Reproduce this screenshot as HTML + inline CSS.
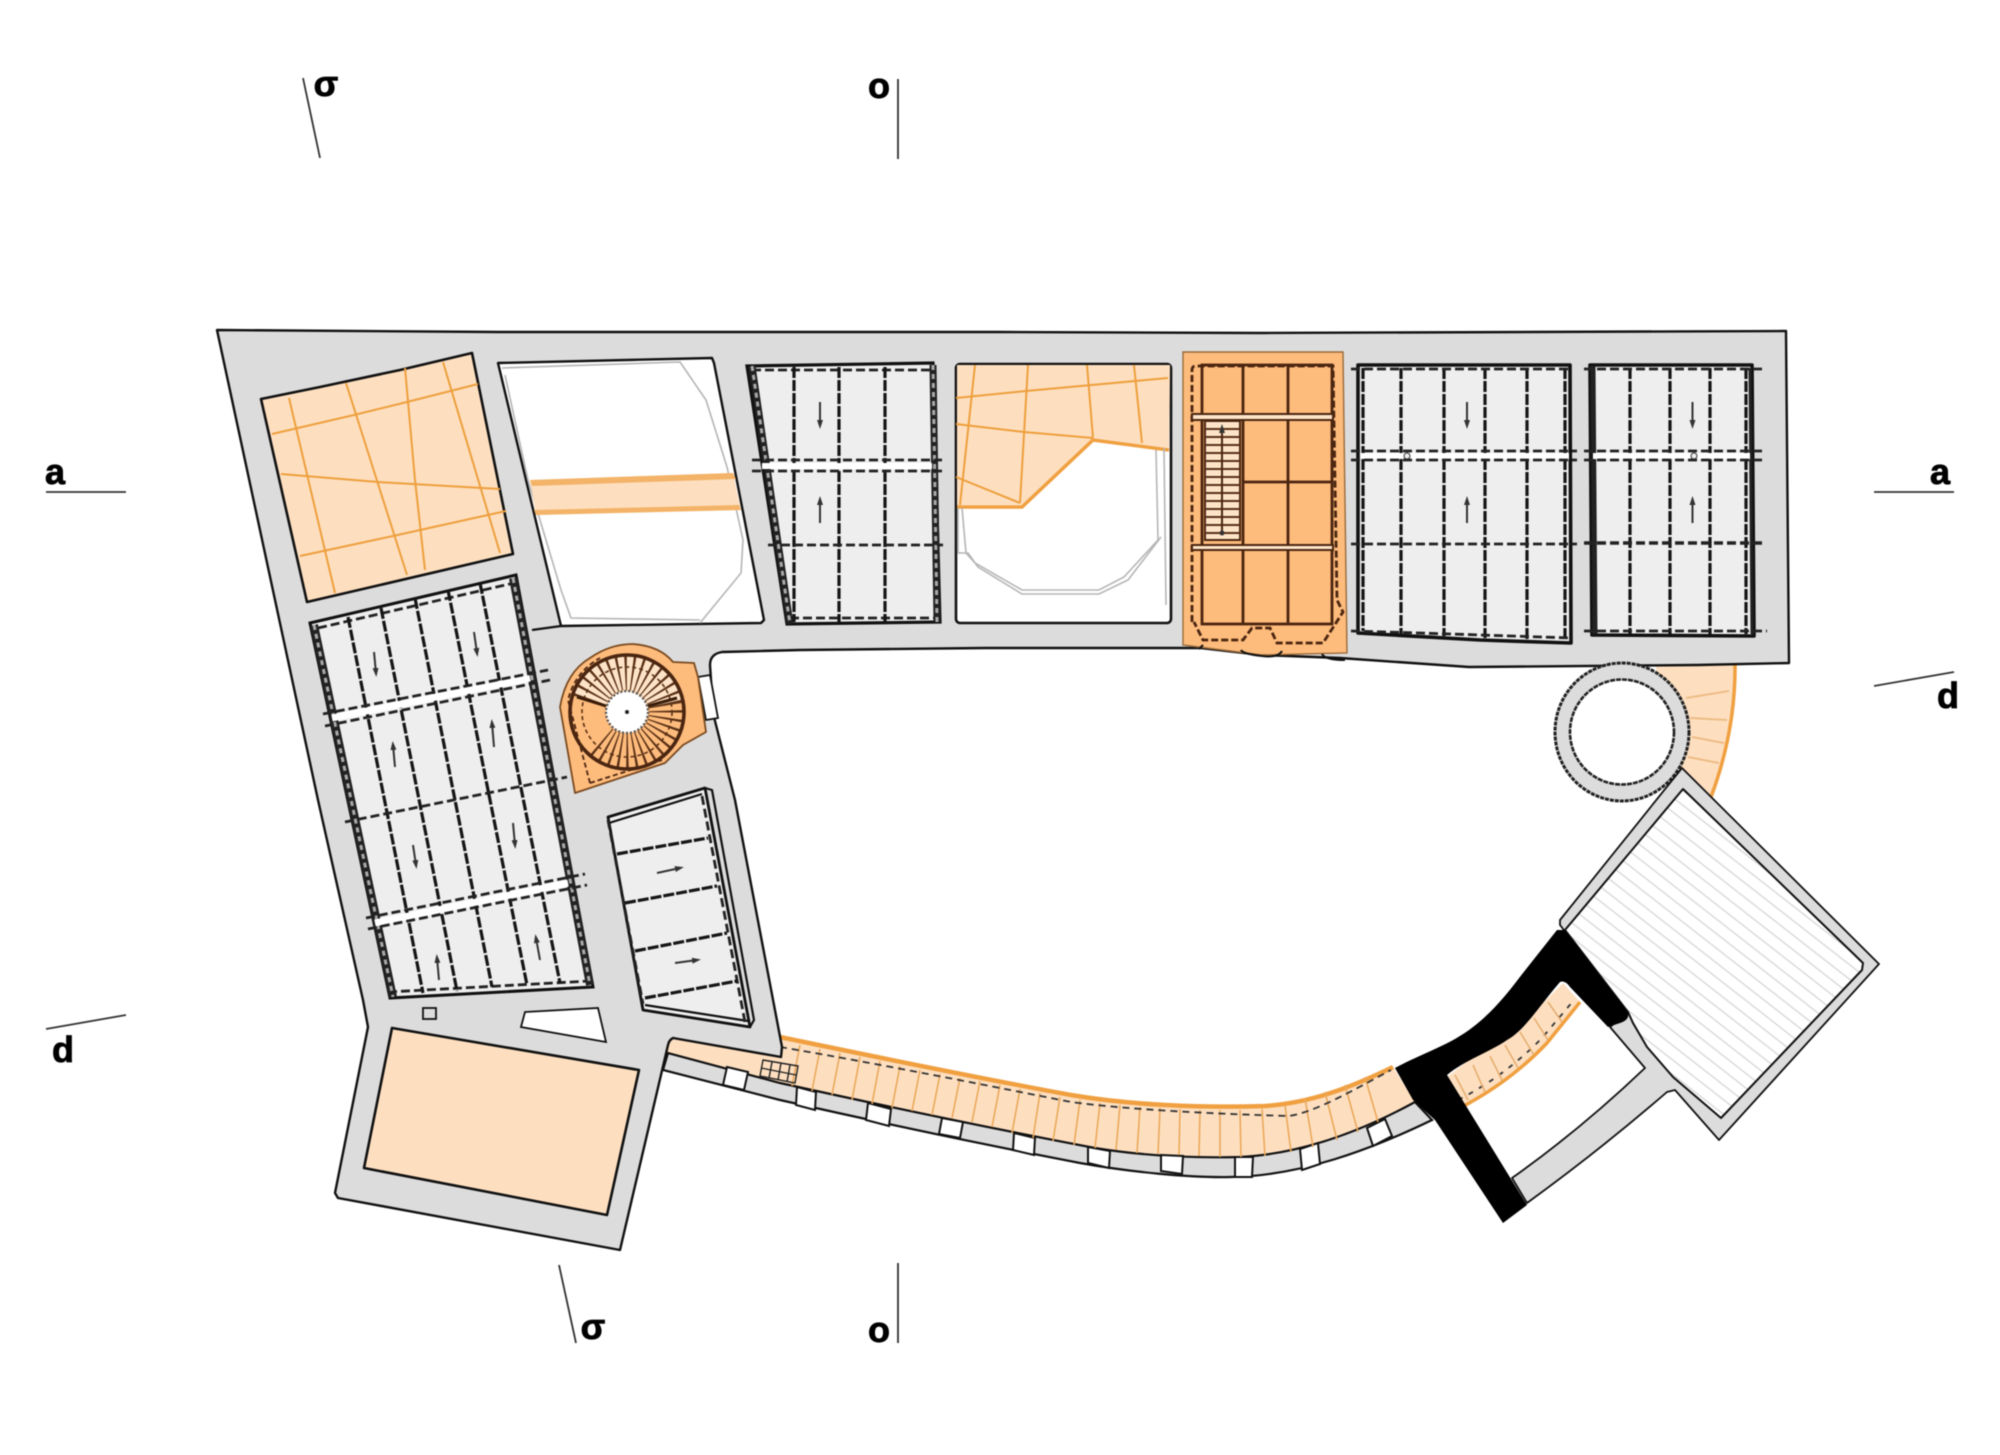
<!DOCTYPE html>
<html><head><meta charset="utf-8"><style>
html,body{margin:0;padding:0;background:#fff}
svg{display:block;filter:blur(0.45px)}
.k{stroke:#111;stroke-width:2.2;fill:none;stroke-linejoin:round}
.o{stroke:#ee9f3c;stroke-width:2;fill:none}
.d{stroke:#151515;stroke-width:3.2;stroke-dasharray:11 2;fill:none}
.h{stroke:#222;stroke-width:2.8;stroke-dasharray:9 4;fill:none}
.b1{stroke:#222;stroke-width:8;fill:none}
.b2{stroke:#aaa;stroke-width:3;stroke-dasharray:5 4;fill:none}
.g{stroke:#b5b5b5;stroke-width:1.6;fill:none}
.a{stroke:#333;stroke-width:2;fill:none}
.br{stroke:#4a2510;stroke-width:2.8;fill:none}
.m{stroke:#333;stroke-width:1.8}
text{font-family:"Liberation Sans","DejaVu Sans",sans-serif;font-weight:bold;font-size:36px;fill:#000;text-anchor:middle;stroke:#000;stroke-width:.8}
</style></head><body>
<svg xmlns="http://www.w3.org/2000/svg" width="2000" height="1455" viewBox="0 0 2000 1455">
<defs>
<pattern id="hat" width="40" height="11.5" patternUnits="userSpaceOnUse" patternTransform="rotate(38)">
<rect width="40" height="11.5" fill="#fff"/><line x1="0" y1="1" x2="40" y2="1" stroke="#d4d4d4" stroke-width="1.2"/>
</pattern>
<marker id="ah" markerUnits="userSpaceOnUse" markerWidth="9" markerHeight="6" refX="5" refY="3" orient="auto"><path d="M0,0L9,3L0,6Z" fill="#333"/></marker>
</defs>
<rect width="2000" height="1455" fill="#fff"/>

<!-- section marks -->
<g class="m">
<line x1="303" y1="78" x2="320" y2="158"/><line x1="898" y1="79" x2="898" y2="159"/>
<line x1="559" y1="1265" x2="576" y2="1343"/><line x1="898" y1="1263" x2="898" y2="1343"/>
<line x1="46" y1="492" x2="126" y2="492"/><line x1="1874" y1="492" x2="1954" y2="492"/>
<line x1="46" y1="1029" x2="126" y2="1015"/><line x1="1874" y1="686" x2="1954" y2="672"/>
</g>
<text x="326" y="96">σ</text><text x="879" y="98">o</text>
<text x="593" y="1339">σ</text><text x="879" y="1342">o</text>
<text x="55" y="484">a</text><text x="1940" y="484">a</text>
<text x="63" y="1062">d</text><text x="1948" y="708">d</text>

<!-- NE stair wedge -->
<path d="M1654,660 L1735,660 Q1736,730 1711,797 L1680,770 Z" fill="#fddfc0"/>
<path d="M1735,662 Q1736,730 1711,797" fill="none" stroke="#f0a040" stroke-width="3.5"/>
<g stroke="#eebc85" stroke-width="2"><line x1="1686" y1="698" x2="1729" y2="691"/><line x1="1690" y1="718" x2="1727" y2="720"/><line x1="1692" y1="737" x2="1724" y2="743"/><line x1="1688" y1="757" x2="1719" y2="763"/></g>

<!-- bottom curved gallery -->
<path d="M660,1038 L780,1037 C900,1062 1000,1082 1071,1095 C1130,1105 1200,1108 1265,1106 C1310,1103 1350,1088 1393,1067 L1415,1102 C1360,1132 1300,1154 1240,1157 C1200,1158 1150,1157 1095,1148 C1000,1130 880,1105 780,1083 L668,1053 Z" fill="#fddfc0"/>
<path d="M780,1037 C900,1062 1000,1082 1071,1095 C1130,1105 1200,1108 1265,1106 C1310,1103 1350,1088 1393,1067" fill="none" stroke="#f0a040" stroke-width="4.5"/>
<path d="M668,1053 L780,1083 C880,1105 1000,1130 1095,1148 C1150,1157 1200,1158 1240,1157 C1300,1154 1360,1132 1415,1102 L1432,1120 C1370,1150 1300,1176 1231,1177 C1190,1178 1130,1172 1080,1163 C970,1142 860,1118 780,1100 L663,1070 Z" fill="#dcdcdc" stroke="#111" stroke-width="2.2"/>
<g fill="#fff" stroke="#111" stroke-width="2">
<path d="M727,1067L748,1072L744,1090L723,1085Z"/>
<path d="M797,1087L816,1092L815,1110L796,1105Z"/>
<path d="M868,1103L891,1109L889,1126L866,1120Z"/>
<path d="M942,1118L963,1122L960,1138L939,1134Z"/>
<path d="M1014,1133L1035,1138L1034,1155L1013,1150Z"/>
<path d="M1088,1147L1110,1151L1109,1168L1088,1163Z"/>
<path d="M1161,1155L1183,1156L1182,1174L1161,1171Z"/>
<path d="M1235,1157L1253,1157L1252,1177L1235,1177Z"/>
<path d="M1300,1149L1318,1143L1320,1164L1302,1170Z"/>
<path d="M1367,1128L1385,1119L1392,1136L1373,1146Z"/>
</g>
<g stroke="#eba85a" stroke-width="1.6">
<line x1="800" y1="1045" x2="792" y2="1086"/><line x1="820" y1="1049" x2="812" y2="1091"/><line x1="840" y1="1053" x2="832" y2="1095"/><line x1="860" y1="1057" x2="852" y2="1100"/><line x1="880" y1="1061" x2="872" y2="1104"/><line x1="900" y1="1066" x2="892" y2="1108"/><line x1="920" y1="1070" x2="912" y2="1111"/><line x1="940" y1="1074" x2="932" y2="1115"/><line x1="960" y1="1078" x2="952" y2="1118"/><line x1="980" y1="1081" x2="972" y2="1122"/><line x1="1000" y1="1085" x2="992" y2="1127"/><line x1="1020" y1="1089" x2="1012" y2="1133"/><line x1="1040" y1="1093" x2="1033" y2="1138"/><line x1="1060" y1="1097" x2="1053" y2="1141"/><line x1="1080" y1="1100" x2="1074" y2="1145"/><line x1="1100" y1="1103" x2="1095" y2="1148"/><line x1="1120" y1="1105" x2="1116" y2="1150"/><line x1="1140" y1="1107" x2="1137" y2="1153"/><line x1="1160" y1="1108" x2="1158" y2="1154"/><line x1="1180" y1="1109" x2="1179" y2="1155"/><line x1="1200" y1="1110" x2="1199" y2="1156"/><line x1="1220" y1="1110" x2="1220" y2="1157"/><line x1="1240" y1="1110" x2="1241" y2="1157"/><line x1="1262" y1="1109" x2="1265" y2="1156"/><line x1="1285" y1="1105" x2="1291" y2="1152"/><line x1="1305" y1="1098" x2="1313" y2="1147"/><line x1="1325" y1="1092" x2="1337" y2="1140"/><line x1="1345" y1="1085" x2="1358" y2="1132"/><line x1="1365" y1="1077" x2="1378" y2="1122"/>
</g>
<path d="M780,1047 C880,1064 1000,1088 1071,1102 C1130,1110 1220,1114 1289,1116 C1315,1112 1350,1092 1391,1070" fill="none" stroke="#333" stroke-width="1.8" stroke-dasharray="7 5"/>
<!-- small grid -->
<g stroke="#222" stroke-width="1.4" fill="none"><path d="M763,1060L798,1066L795,1083L760,1076Z"/><line x1="761" y1="1068" x2="796" y2="1075"/><line x1="772" y1="1062" x2="769" y2="1078"/><line x1="781" y1="1063" x2="778" y2="1080"/><line x1="790" y1="1065" x2="787" y2="1082"/></g>

<!-- main grey body -->
<path d="M217,330 L500,332 L1000,332 L1262,333 L1786,331 L1789,663 L1697,665 L1469,667 L1340,658 L1262,655 L1201,648 L985,648 L800,650 L722,652 Q710,654 710,665 L711,680 L714,717 L735,800 L782,1047 L781,1057 L673,1038 Q669,1040 668,1045 L620,1250 L338,1198 L335,1193 L368,1027 L363,1000 L318,800 Z" fill="#dcdcdc" stroke="#111" stroke-width="2.4" stroke-linejoin="round"/>

<!-- doorway white -->
<path d="M698,677 L710,675 L718,718 L706,720Z" fill="#fff" stroke="#111" stroke-width="1.8"/>

<!-- Room A -->
<path d="M261,399 L320,387 L400,370 L472,353 L513,554 L307,602 Z" fill="#fddfc0" stroke="#111" stroke-width="2.6" stroke-linejoin="round"/>
<g class="o">
<line x1="289" y1="398" x2="335" y2="593"/><line x1="346" y1="383" x2="407" y2="575"/>
<path d="M405,368 L415,480 L425,570"/><line x1="443" y1="362" x2="500" y2="553"/>
<path d="M272,434 L354,415 L407,402 L478,384"/><path d="M281,474 L378,482 L500,489"/><path d="M300,556 L393,536 L506,511"/>
</g>

<!-- Room B -->
<path d="M498,363 L712,358 L714,363 L764,620 L761,623 L561,626 Z" fill="#fff" stroke="#111" stroke-width="2.4" stroke-linejoin="round"/>
<path d="M502,368 L680,362 L706,400 L727,467 L743,540 L741,573 L700,623 M700,620 L571,618 L561,590 L528,480 L505,375" class="g"/>
<path d="M530,480 L733,473 L741,510 L536,515Z" fill="#fddfc0"/>
<path d="M530,480 L733,473 L736,479 L532,486Z M534,510 L739,505 L741,510 L536,515Z" fill="#f3b368"/>
<line x1="532" y1="630" x2="561" y2="626" class="k"/>

<!-- Room C -->
<path d="M310,623 L516,575 L593,987 L390,998 Z" fill="#eeeeee" stroke="#111" stroke-width="3"/>
<path d="M318,628 L514,583 M388,992 L590,981" class="h"/>
<g class="b1"><line x1="314" y1="625" x2="393" y2="997"/><line x1="513" y1="578" x2="590" y2="985"/></g>
<g class="b2"><line x1="314" y1="625" x2="393" y2="997"/><line x1="513" y1="578" x2="590" y2="985"/></g>
<g class="d"><line x1="348" y1="617" x2="423" y2="993"/><line x1="381" y1="608" x2="457" y2="991"/><line x1="415" y1="598" x2="492" y2="987"/><line x1="448" y1="590" x2="527" y2="985"/><line x1="480" y1="583" x2="560" y2="983"/></g>
<line x1="332" y1="718" x2="530" y2="678" stroke="#fff" stroke-width="7"/>
<line x1="375" y1="923" x2="568" y2="883" stroke="#fff" stroke-width="7"/>
<g class="h"><line x1="323" y1="714" x2="548" y2="670"/><line x1="325" y1="726" x2="550" y2="680"/><line x1="366" y1="918" x2="585" y2="874"/><line x1="368" y1="929" x2="587" y2="885"/><line x1="345" y1="822" x2="567" y2="777"/></g>
<g class="a"><line x1="374" y1="652" x2="376" y2="673" marker-end="url(#ah)"/><line x1="474" y1="632" x2="477" y2="653" marker-end="url(#ah)"/><line x1="395" y1="767" x2="393" y2="745" marker-end="url(#ah)"/><line x1="494" y1="747" x2="492" y2="723" marker-end="url(#ah)"/><line x1="413" y1="845" x2="416" y2="865" marker-end="url(#ah)"/><line x1="513" y1="823" x2="515" y2="845" marker-end="url(#ah)"/><line x1="439" y1="980" x2="437" y2="958" marker-end="url(#ah)"/><line x1="540" y1="960" x2="536" y2="938" marker-end="url(#ah)"/></g>

<!-- Room D -->
<path d="M608,817 L705,788 L750,1027 L643,1010 Z" fill="#eeeeee" stroke="#111" stroke-width="2.8" stroke-linejoin="round"/>
<path d="M609,823 L702,794 M705,788 L712,790 L754,1020 L750,1027 M645,1005 L748,1021" class="k"/>
<path d="M608,820 L643,1004 M702,796 L745,1022" class="h"/>
<g class="d"><line x1="617" y1="854" x2="708" y2="838"/><line x1="625" y1="903" x2="717" y2="886"/><line x1="635" y1="951" x2="727" y2="933"/><line x1="645" y1="998" x2="737" y2="981"/></g>
<line x1="657" y1="873" x2="680" y2="868" class="a" marker-end="url(#ah)"/><line x1="675" y1="963" x2="697" y2="960" class="a" marker-end="url(#ah)"/>

<!-- trapezoid and square -->
<path d="M525,1012 L598,1008 L606,1042 L521,1027Z" fill="#fff" stroke="#111" stroke-width="1.8"/>
<rect x="423" y="1008" width="13" height="11" fill="none" stroke="#111" stroke-width="1.8"/>

<!-- Room E -->
<path d="M392,1028 L639,1070 L607,1215 L364,1168 Z" fill="#fddfc0" stroke="#111" stroke-width="2.6" stroke-linejoin="round"/>

<!-- Room F -->
<path d="M747,366 L933,363 L940,622 L787,624 Z" fill="#eeeeee" stroke="#111" stroke-width="3.2"/>
<path d="M752,370 L930,370 M790,618 L938,618" class="h"/>
<g class="b1" style="stroke-width:7"><line x1="752" y1="366" x2="790" y2="624"/><line x1="933" y1="365" x2="937" y2="622"/></g>
<g class="b2"><line x1="752" y1="366" x2="790" y2="624"/><line x1="933" y1="365" x2="937" y2="622"/></g>
<g class="d"><line x1="794" y1="367" x2="794" y2="622"/><line x1="839" y1="367" x2="839" y2="622"/><line x1="885" y1="367" x2="885" y2="622"/></g>
<line x1="762" y1="466" x2="932" y2="466" stroke="#fff" stroke-width="6"/>
<g class="h"><line x1="752" y1="460" x2="942" y2="460"/><line x1="752" y1="471" x2="942" y2="471"/><line x1="768" y1="545" x2="943" y2="545"/></g>
<line x1="820" y1="402" x2="820" y2="425" class="a" marker-end="url(#ah)"/><line x1="820" y1="523" x2="820" y2="500" class="a" marker-end="url(#ah)"/>

<!-- Room G -->
<rect x="956" y="364" width="215" height="259" rx="4" fill="#fff" stroke="#111" stroke-width="2.6"/>
<path d="M957,365 L1170,365 L1169,448 L1093,438 L1022,505 L957,505 Z" fill="#fddfc0"/>
<path d="M957,507 L1022,507 L1093,440 L1169,450" fill="none" stroke="#f0a040" stroke-width="3.5"/>
<g class="o"><line x1="975" y1="365" x2="960" y2="505"/><line x1="1028" y1="365" x2="1020" y2="503"/><line x1="1087" y1="365" x2="1093" y2="438"/><line x1="1134" y1="365" x2="1142" y2="443"/><path d="M956,398 L1026,391 L1168,378"/><path d="M956,424 L1024,432 L1093,438"/><line x1="956" y1="477" x2="1020" y2="503"/></g>
<path d="M962,508 L966,553 L975,563 L1022,590 L1099,590 L1124,577 L1158,540 L1156,450" class="g"/>
<path d="M958,508 L958,553 L968,553 L978,567 L1022,594 L1099,594 L1128,580 L1161,537 M1164,448 L1166,605" class="g"/>

<!-- Room H -->
<path d="M1183,352 L1343,352 L1347,653 L1262,655 L1183,645 Z" fill="#fdbb7c" stroke="#9a6a3a" stroke-width="1.4"/>
<path d="M1192,622 V370 Q1192,366 1196,366 H1333 L1337,600 L1343,612 L1323,643 H1277 L1270,628 H1252 L1243,640 H1203 L1194,622" fill="none" stroke="#4a2510" stroke-width="2.8" stroke-dasharray="7 3"/>
<g class="br">
<rect x="1202" y="365" width="130" height="259"/>
<line x1="1243" y1="365" x2="1243" y2="625"/><line x1="1288" y1="365" x2="1288" y2="625"/><line x1="1243" y1="482" x2="1332" y2="482"/>
</g>
<rect x="1192" y="414" width="141" height="6" fill="#fde4c8" stroke="#4a2510" stroke-width="2"/>
<rect x="1192" y="545" width="141" height="5" fill="#fde4c8" stroke="#4a2510" stroke-width="2"/>
<rect x="1205" y="421" width="35" height="119" fill="#fde4c8" stroke="#4a2510" stroke-width="2"/>
<g stroke="#5a3015" stroke-width="2"><line x1="1205" y1="429" x2="1240" y2="429"/><line x1="1205" y1="437" x2="1240" y2="437"/><line x1="1205" y1="445" x2="1240" y2="445"/><line x1="1205" y1="453" x2="1240" y2="453"/><line x1="1205" y1="461" x2="1240" y2="461"/><line x1="1205" y1="469" x2="1240" y2="469"/><line x1="1205" y1="477" x2="1240" y2="477"/><line x1="1205" y1="485" x2="1240" y2="485"/><line x1="1205" y1="493" x2="1240" y2="493"/><line x1="1205" y1="501" x2="1240" y2="501"/><line x1="1205" y1="509" x2="1240" y2="509"/><line x1="1205" y1="517" x2="1240" y2="517"/><line x1="1205" y1="525" x2="1240" y2="525"/><line x1="1205" y1="533" x2="1240" y2="533"/></g>
<line x1="1222" y1="533" x2="1222" y2="428" stroke="#4a2510" stroke-width="2" marker-end="url(#ah)"/>
<circle cx="1222" cy="533" r="2.5" fill="#333"/>
<path d="M1199,649 L1203,645 M1241,650 Q1243,654 1262,656 Q1278,658 1282,651 M1322,654 Q1325,660 1345,660" fill="none" stroke="#111" stroke-width="2"/>

<!-- Room I -->
<path d="M1358,365 L1570,365 L1571,643 L1480,640 L1358,633 Z" fill="#eeeeee" stroke="#111" stroke-width="3.6" stroke-linejoin="round"/>
<g class="d"><line x1="1363" y1="368" x2="1363" y2="631"/><line x1="1401" y1="368" x2="1401" y2="634"/><line x1="1444" y1="368" x2="1444" y2="636"/><line x1="1485" y1="368" x2="1485" y2="638"/><line x1="1527" y1="368" x2="1527" y2="640"/><line x1="1565" y1="368" x2="1565" y2="640"/></g>
<line x1="1361" y1="456" x2="1569" y2="456" stroke="#fff" stroke-width="6"/>
<g class="h"><line x1="1351" y1="369" x2="1572" y2="369"/><line x1="1351" y1="451" x2="1577" y2="451"/><line x1="1351" y1="460" x2="1577" y2="460"/><line x1="1351" y1="544" x2="1577" y2="544"/><path d="M1351,631 L1420,633 L1572,638"/></g>
<circle cx="1407" cy="456" r="3" fill="#eee" stroke="#333"/>
<line x1="1467" y1="402" x2="1467" y2="425" class="a" marker-end="url(#ah)"/><line x1="1467" y1="523" x2="1467" y2="500" class="a" marker-end="url(#ah)"/>

<!-- Room J -->
<path d="M1590,365 L1752,365 L1754,636 L1592,635 Z" fill="#eeeeee" stroke="#111" stroke-width="3.6" stroke-linejoin="round"/>
<line x1="1593" y1="366" x2="1595" y2="634" stroke="#222" stroke-width="5"/>
<line x1="1750" y1="368" x2="1752" y2="634" stroke="#222" stroke-width="3"/>
<g class="d"><line x1="1630" y1="368" x2="1630" y2="634"/><line x1="1670" y1="368" x2="1670" y2="634"/><line x1="1710" y1="368" x2="1710" y2="634"/><line x1="1746" y1="368" x2="1746" y2="634"/></g>
<line x1="1593" y1="456" x2="1750" y2="456" stroke="#fff" stroke-width="6"/>
<g class="h"><line x1="1584" y1="369" x2="1765" y2="369"/><line x1="1584" y1="451" x2="1765" y2="451"/><line x1="1584" y1="460" x2="1765" y2="460"/><line x1="1584" y1="543" x2="1765" y2="543" style="stroke-width:3.4"/><line x1="1584" y1="631" x2="1767" y2="631"/></g>
<circle cx="1694" cy="456" r="3" fill="#eee" stroke="#333"/>
<line x1="1692.5" y1="402" x2="1692.5" y2="425" class="a" marker-end="url(#ah)"/><line x1="1692.5" y1="523" x2="1692.5" y2="500" class="a" marker-end="url(#ah)"/>

<!-- Tower -->
<ellipse cx="1622" cy="732" rx="67" ry="69" fill="#dcdcdc" stroke="#222" stroke-width="3" stroke-dasharray="4 1"/>
<ellipse cx="1622" cy="732" rx="52" ry="52.5" fill="#fff" stroke="#222" stroke-width="2.6" stroke-dasharray="5 1"/>

<!-- Spiral stair -->
<path d="M575,793 L560,707 Q566,672 590,658 Q610,644 633,644 Q660,646 673,662 L694,663 L698,677 L706,732 L683,745 L665,763 Z" fill="#fdbb7c" stroke="#7a4a20" stroke-width="1.8" stroke-linejoin="round"/>
<path d="M590,783 L568,700 Q575,672 600,658 M590,783 L662,760" fill="none" stroke="#4a2510" stroke-width="1.8" stroke-dasharray="5 3"/>
<path d="M589.7,700.6 A39,39 0 0 1 665.1,703.9" fill="none" stroke="#fde4c8" stroke-width="34"/>
<path d="M589.7,700.6 A39,39 0 0 1 665.1,703.9" fill="none" stroke="#5a3015" stroke-width="34" stroke-dasharray="1.8 5"/>
<path d="M665.1,703.9 A39,39 0 0 1 601.4,741.4" fill="none" stroke="#5a3015" stroke-width="34" stroke-dasharray="1.8 5"/>
<circle cx="627" cy="712" r="45" fill="none" stroke="#5a3015" stroke-width="1.6" stroke-dasharray="4 3"/>
<circle cx="627" cy="712" r="57" fill="none" stroke="#4a2510" stroke-width="3.6"/>
<path d="M577,697 L606,706 M648,706 L677,698" stroke="#3a1c08" stroke-width="3" fill="none"/>
<circle cx="627" cy="712" r="21" fill="#fff" stroke="#555" stroke-width="2.4" stroke-dasharray="2 2"/>
<circle cx="627" cy="712" r="2" fill="#222"/>

<!-- Big square building -->
<path d="M1682,768 L1879,964 L1719,1140 L1675,1090 L1667,1092 Q1600,1150 1527,1203 L1512,1178 Q1580,1130 1645,1068 L1610,1027 L1628,1012 L1560,925 L1560,920 Z" fill="#dcdcdc" stroke="#111" stroke-width="1.8" stroke-linejoin="round"/>
<path d="M1683,789 L1863,963 L1862,970 L1721,1118 L1673,1077 L1647,1047 L1633,1023 L1628,1012 L1565,930 Z" fill="url(#hat)" stroke="#111" stroke-width="2" stroke-linejoin="round"/>

<!-- inner orange stair -->
<path d="M1447,1077 L1460,1108 Q1510,1082 1547,1043 L1580,1002 L1563,983 L1533,1013 L1507,1040 L1473,1057 Z" fill="#fddfc0"/>
<path d="M1460,1108 Q1510,1082 1547,1043 L1580,1002" fill="none" stroke="#f0a040" stroke-width="3.5"/>
<path d="M1458,1100 Q1505,1076 1542,1038 L1574,1000" fill="none" stroke="#333" stroke-width="1.8" stroke-dasharray="5 7"/>
<g stroke="#e6ae70" stroke-width="1.6"><line x1="1455" y1="1075" x2="1468" y2="1100"/><line x1="1473" y1="1065" x2="1485" y2="1092"/><line x1="1490" y1="1056" x2="1502" y2="1080"/><line x1="1505" y1="1045" x2="1518" y2="1068"/><line x1="1520" y1="1032" x2="1534" y2="1055"/><line x1="1534" y1="1018" x2="1548" y2="1040"/><line x1="1548" y1="1002" x2="1562" y2="1022"/></g>

<!-- black wall -->
<path d="M1395,1068 C1425,1052 1450,1045 1473,1027 C1495,1010 1510,990 1523,973 L1557,930 L1565,930 L1628,1012 Q1630,1020 1620,1023 L1608,1027 L1570,987 Q1565,980 1560,982 C1540,1005 1525,1030 1507,1040 C1490,1052 1465,1060 1447,1075 L1527,1205 L1503,1223 L1435,1120 L1413,1100 Z" fill="#000"/>
</svg>
</body></html>
